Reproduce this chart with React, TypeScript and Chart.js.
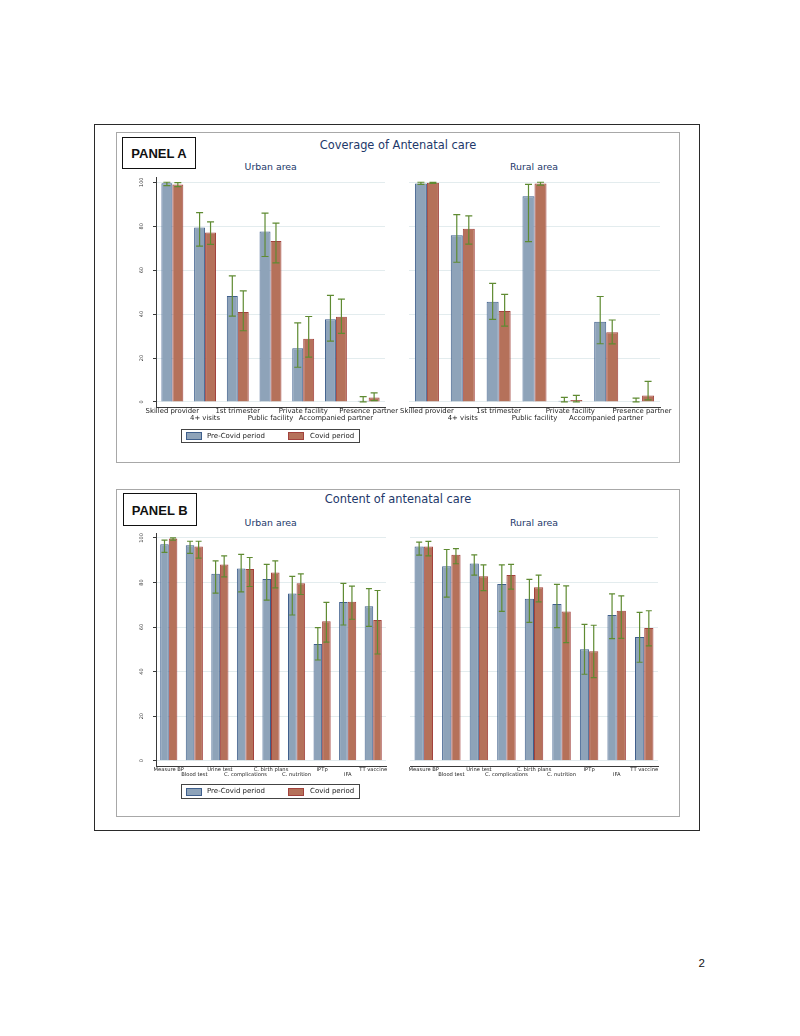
import React, { useEffect, useRef } from "react";
import { Chart, registerables } from "chart.js";
Chart.register(...registerables);

// ---------- DATA ----------
const coverageCategories = [
  "Skilled provider",
  "4+ visits",
  "1st trimester",
  "Public facility",
  "Private facility",
  "Accompanied partner",
  "Presence partner",
];
const contentCategories = [
  "Measure BP",
  "Blood test",
  "Urine test",
  "C. complications",
  "C. birth plans",
  "C. nutrition",
  "IPTp",
  "IFA",
  "TT vaccine",
];
const yTickValues = [0, 20, 40, 60, 80, 100];
const seriesNames = ["Pre-Covid period", "Covid period"];

// Panel A – Urban
const aUrbanPre = [99.5, 79.4, 48.2, 77.6, 24.4, 37.6, 0.6];
const aUrbanPreLo = [98.5, 70.9, 39.1, 66.2, 15.8, 27.7, 0];
const aUrbanPreHi = [100, 86.2, 57.4, 86, 36, 48.5, 2.4];
const aUrbanCovid = [99, 77.1, 41, 73.3, 28.8, 38.8, 2];
const aUrbanCovidLo = [98, 71.7, 32.4, 63.3, 20.4, 31.2, 0.6];
const aUrbanCovidHi = [99.8, 82, 50.6, 81.4, 38.9, 46.8, 4.1];

// Panel A – Rural
const aRuralPre = [99.4, 75.9, 45.6, 93.6, 0.5, 36.5, 0.3];
const aRuralPreLo = [99, 63.6, 37.6, 73, 0, 26.5, 0];
const aRuralPreHi = [100, 85.3, 54, 99, 2.1, 48, 1.7];
const aRuralCovid = [99.8, 78.8, 41.4, 99.4, 0.9, 31.7, 2.9];
const aRuralCovidLo = [99.5, 71.8, 34.5, 98.7, 0, 26.4, 0.9];
const aRuralCovidHi = [100, 84.7, 49, 100, 3, 37.3, 9.4];

// Panel B – Urban
const bUrbanPre = [97.2, 96.7, 83.9, 86.3, 81.5, 75.1, 52.4, 71.2, 69.3];
const bUrbanPreLo = [93.5, 93.1, 75.2, 75.8, 72.1, 65.4, 45.2, 60.9, 60.3];
const bUrbanPreHi = [99, 98.5, 89.7, 92.6, 88.1, 82.7, 59.7, 79.6, 77.2];
const bUrbanCovid = [99.7, 96.1, 88.1, 86, 84.5, 79.7, 62.6, 71.3, 63.1];
const bUrbanCovidLo = [99, 90.9, 82.5, 78.2, 77.6, 74.6, 53.2, 63.5, 47.9];
const bUrbanCovidHi = [100, 98.5, 91.9, 91.2, 89.7, 83.9, 71.1, 78.4, 76.4];

// Panel B – Rural
const bRuralPre = [96.1, 87.3, 88.5, 79.3, 72.7, 70.3, 50, 65.4, 55.5];
const bRuralPreLo = [92.3, 73.4, 83.3, 67, 62.1, 59.7, 38.8, 54.8, 44.2];
const bRuralPreHi = [98.1, 94.8, 92.4, 87.9, 81.4, 79.1, 61.2, 74.9, 66.6];
const bRuralCovid = [96.1, 92.4, 82.8, 83.3, 77.9, 67, 49.1, 67.3, 59.6];
const bRuralCovidLo = [91.9, 88.4, 76.3, 77, 71.3, 53, 37.3, 54.9, 51.5];
const bRuralCovidHi = [98.4, 95.2, 87.9, 88.1, 83.3, 78.5, 60.8, 74, 67.3];

// ---------- STYLE ----------
const PRE_FILL = "#8ea3b9";
const PRE_BORDER = "#3f5f8c";
const COVID_FILL = "#b5715a";
const COVID_BORDER = "#a2423d";
const ERR_COLOR = "#5f8b32";
const GRID_COLOR = "#e3ecee";
const AXIS_COLOR = "#3a3a3a";
const TITLE_COLOR = "#22386a";
const FONT = '"DejaVu Sans", Verdana, sans-serif';

function stagger(labels: string[]) {
  return labels.map((l, i) => (i % 2 === 0 ? [l] : ["", l]));
}

function errorBarPlugin(cap: number) {
  return {
    id: "errorBars",
    afterDatasetsDraw(chart: any) {
      const ctx = chart.ctx;
      const y = chart.scales.y;
      chart.data.datasets.forEach((ds: any, i: number) => {
        const meta = chart.getDatasetMeta(i);
        meta.data.forEach((bar: any, j: number) => {
          const x = bar.x;
          const yl = y.getPixelForValue(ds.errLo[j]);
          const yh = y.getPixelForValue(ds.errHi[j]);
          ctx.save();
          ctx.strokeStyle = ERR_COLOR;
          ctx.lineWidth = 1.2;
          ctx.beginPath();
          ctx.moveTo(x, yl);
          ctx.lineTo(x, yh);
          ctx.moveTo(x - cap / 2, yl);
          ctx.lineTo(x + cap / 2, yl);
          ctx.moveTo(x - cap / 2, yh);
          ctx.lineTo(x + cap / 2, yh);
          ctx.stroke();
          ctx.restore();
        });
      });
    },
  };
}

function yLabelPlugin(xPos: number, fontSize: number) {
  return {
    id: "yRotLabels",
    afterDraw(chart: any) {
      const ctx = chart.ctx;
      const y = chart.scales.y;
      ctx.save();
      ctx.fillStyle = "#333";
      ctx.font = `${fontSize}px ${FONT}`;
      ctx.textAlign = "center";
      ctx.textBaseline = "middle";
      y.ticks.forEach((t: any) => {
        const py = y.getPixelForValue(t.value);
        ctx.save();
        ctx.translate(xPos, py);
        ctx.rotate(-Math.PI / 2);
        ctx.fillText(String(t.value), 0, 0);
        ctx.restore();
      });
      ctx.restore();
    },
  };
}

type Area = { l: number; r: number; t: number; b: number };

type SubProps = {
  categories: string[];
  pre: number[];
  preLo: number[];
  preHi: number[];
  covid: number[];
  covidLo: number[];
  covidHi: number[];
  area: Area;
  yMin: number;
  yMax: number;
  showY: boolean;
  fontSize: number;
  lineHeight: number;
  pad: number;
  cap: number;
};

const Y_W = 40;
const PAD_T = 10;
const PAD_R = 30;
const X_H = 22;
const Y_LABEL_X = 142;

function SubChart(p: SubProps) {
  const ref = useRef<HTMLCanvasElement | null>(null);
  const left = p.area.l - Y_W;
  const top = p.area.t - PAD_T;
  const width = p.area.r + PAD_R - left;
  const height = p.area.b + X_H - top;

  useEffect(() => {
    if (!ref.current) return;
    const plugins: any[] = [errorBarPlugin(p.cap)];
    if (p.showY) plugins.push(yLabelPlugin(Y_LABEL_X - left, 5));
    const chart = new Chart(ref.current, {
      type: "bar",
      data: {
        labels: stagger(p.categories),
        datasets: [
          {
            label: seriesNames[0],
            data: p.pre,
            backgroundColor: PRE_FILL,
            borderColor: PRE_BORDER,
            borderWidth: 1,
            errLo: p.preLo,
            errHi: p.preHi,
          } as any,
          {
            label: seriesNames[1],
            data: p.covid,
            backgroundColor: COVID_FILL,
            borderColor: COVID_BORDER,
            borderWidth: 1,
            errLo: p.covidLo,
            errHi: p.covidHi,
          } as any,
        ],
      },
      options: {
        responsive: false,
        animation: false,
        maintainAspectRatio: false,
        devicePixelRatio: 1,
        layout: { padding: { top: PAD_T, right: PAD_R, left: 0, bottom: 0 } },
        datasets: { bar: { categoryPercentage: 0.67, barPercentage: 1.0 } },
        plugins: {
          legend: { display: false },
          title: { display: false },
          tooltip: { enabled: false },
        },
        scales: {
          x: {
            offset: true,
            grid: { display: false, drawTicks: false },
            border: { display: true, color: AXIS_COLOR, width: 1 },
            ticks: {
              autoSkip: false,
              maxRotation: 0,
              minRotation: 0,
              padding: p.pad,
              color: "#222",
              font: { family: FONT, size: p.fontSize, lineHeight: p.lineHeight / p.fontSize },
            },
            afterFit: (s: any) => {
              s.height = X_H;
            },
          },
          y: {
            min: p.yMin,
            max: p.yMax,
            afterBuildTicks: (axis: any) => {
              axis.ticks = yTickValues.map((v) => ({ value: v }));
            },
            grid: {
              color: GRID_COLOR,
              lineWidth: 1,
              drawTicks: p.showY,
              tickLength: 3,
              tickColor: AXIS_COLOR,
            },
            border: { display: p.showY, color: AXIS_COLOR, width: 1 },
            ticks: { display: false },
            afterFit: (s: any) => {
              s.width = Y_W;
            },
          },
        },
      },
      plugins,
    } as any);
    return () => chart.destroy();
  }, []);

  return (
    <canvas
      ref={ref}
      width={width}
      height={height}
      style={{ position: "absolute", left, top, width, height }}
    />
  );
}

function Text(props: {
  x: number;
  y: number;
  size: number;
  color?: string;
  bold?: boolean;
  family?: string;
  children: React.ReactNode;
  align?: "center" | "left";
}) {
  const centered = props.align !== "left";
  return (
    <div
      style={{
        position: "absolute",
        left: props.x,
        top: props.y,
        transform: centered ? "translate(-50%, -50%)" : "translate(0, -50%)",
        fontSize: props.size,
        lineHeight: 1,
        color: props.color || "#222",
        fontWeight: props.bold ? 700 : 400,
        fontFamily: props.family || FONT,
        whiteSpace: "nowrap",
      }}
    >
      {props.children}
    </div>
  );
}

function Box(props: { l: number; t: number; r: number; b: number; color: string }) {
  return (
    <div
      style={{
        position: "absolute",
        left: props.l,
        top: props.t,
        width: props.r - props.l,
        height: props.b - props.t,
        border: `1px solid ${props.color}`,
        boxSizing: "border-box",
      }}
    />
  );
}

function Legend(props: { t: number; b: number }) {
  const cy = (props.t + props.b) / 2;
  const sw = (x: number, fill: string, border: string) => (
    <div
      style={{
        position: "absolute",
        left: x,
        top: cy - 3.8,
        width: 16,
        height: 7.6,
        background: fill,
        border: `1px solid ${border}`,
        boxSizing: "border-box",
      }}
    />
  );
  return (
    <>
      <Box l={181} t={props.t} r={360} b={props.b} color="#444" />
      {sw(185.7, PRE_FILL, PRE_BORDER)}
      <Text x={207} y={cy - 0.5} size={7} align="left">
        {seriesNames[0]}
      </Text>
      {sw(288.3, COVID_FILL, COVID_BORDER)}
      <Text x={310} y={cy - 0.5} size={7} align="left">
        {seriesNames[1]}
      </Text>
    </>
  );
}

export default function App() {
  return (
    <div
      style={{
        position: "absolute",
        left: 0,
        top: 0,
        width: 800,
        height: 1036,
        background: "#fff",
        overflow: "hidden",
      }}
    >
      {/* outer frame */}
      <Box l={94} t={123.5} r={700} b={830.5} color="#2a2a2a" />
      {/* panel boxes */}
      <Box l={115.5} t={132} r={680} b={462.5} color="#a8a8a8" />
      <Box l={115.5} t={488.8} r={680} b={817} color="#a8a8a8" />

      {/* Panel A */}
      <Box l={122.3} t={136.7} r={195.7} b={168.7} color="#111" />
      <Text x={159} y={152.7} size={13} bold family='"Liberation Sans", Arial, sans-serif' color="#111">
        PANEL A
      </Text>
      <Text x={398} y={145.7} size={11.4} color={TITLE_COLOR}>
        Coverage of Antenatal care
      </Text>
      <Text x={270.7} y={167.3} size={9.4} color={TITLE_COLOR}>
        Urban area
      </Text>
      <Text x={534} y={167.3} size={9.4} color={TITLE_COLOR}>
        Rural area
      </Text>
      <SubChart
        categories={coverageCategories}
        pre={aUrbanPre}
        preLo={aUrbanPreLo}
        preHi={aUrbanPreHi}
        covid={aUrbanCovid}
        covidLo={aUrbanCovidLo}
        covidHi={aUrbanCovidHi}
        area={{ l: 156, r: 385, t: 176.7, b: 407 }}
        yMin={-2.3}
        yMax={102.4}
        showY={true}
        fontSize={6.9}
        lineHeight={6.6}
        pad={1}
        cap={7}
      />
      <SubChart
        categories={coverageCategories}
        pre={aRuralPre}
        preLo={aRuralPreLo}
        preHi={aRuralPreHi}
        covid={aRuralCovid}
        covidLo={aRuralCovidLo}
        covidHi={aRuralCovidHi}
        area={{ l: 408.5, r: 659.5, t: 176.7, b: 407 }}
        yMin={-2.3}
        yMax={102.4}
        showY={false}
        fontSize={6.9}
        lineHeight={6.6}
        pad={1}
        cap={7}
      />
      <Legend t={428.7} b={443.5} />

      {/* Panel B */}
      <Box l={122.7} t={493.3} r={196.7} b={525.7} color="#111" />
      <Text x={159.7} y={509.5} size={13} bold family='"Liberation Sans", Arial, sans-serif' color="#111">
        PANEL B
      </Text>
      <Text x={398} y={500} size={11.4} color={TITLE_COLOR}>
        Content of antenatal care
      </Text>
      <Text x={270.7} y={522.7} size={9.4} color={TITLE_COLOR}>
        Urban area
      </Text>
      <Text x={534} y={522.7} size={9.4} color={TITLE_COLOR}>
        Rural area
      </Text>
      <SubChart
        categories={contentCategories}
        pre={bUrbanPre}
        preLo={bUrbanPreLo}
        preHi={bUrbanPreHi}
        covid={bUrbanCovid}
        covidLo={bUrbanCovidLo}
        covidHi={bUrbanCovidHi}
        area={{ l: 156, r: 386, t: 532.7, b: 766.3 }}
        yMin={-2.37}
        yMax={102.2}
        showY={true}
        fontSize={5.2}
        lineHeight={5}
        pad={1.5}
        cap={6}
      />
      <SubChart
        categories={contentCategories}
        pre={bRuralPre}
        preLo={bRuralPreLo}
        preHi={bRuralPreHi}
        covid={bRuralCovid}
        covidLo={bRuralCovidLo}
        covidHi={bRuralCovidHi}
        area={{ l: 410, r: 658, t: 532.7, b: 766.3 }}
        yMin={-2.37}
        yMax={102.2}
        showY={false}
        fontSize={5.2}
        lineHeight={5}
        pad={1.5}
        cap={6}
      />
      <Legend t={784.3} b={799.5} />

      {/* page number */}
      <Text x={701.7} y={964} size={11.5} family='"Liberation Sans", Arial, sans-serif' color="#111">
        2
      </Text>
    </div>
  );
}
